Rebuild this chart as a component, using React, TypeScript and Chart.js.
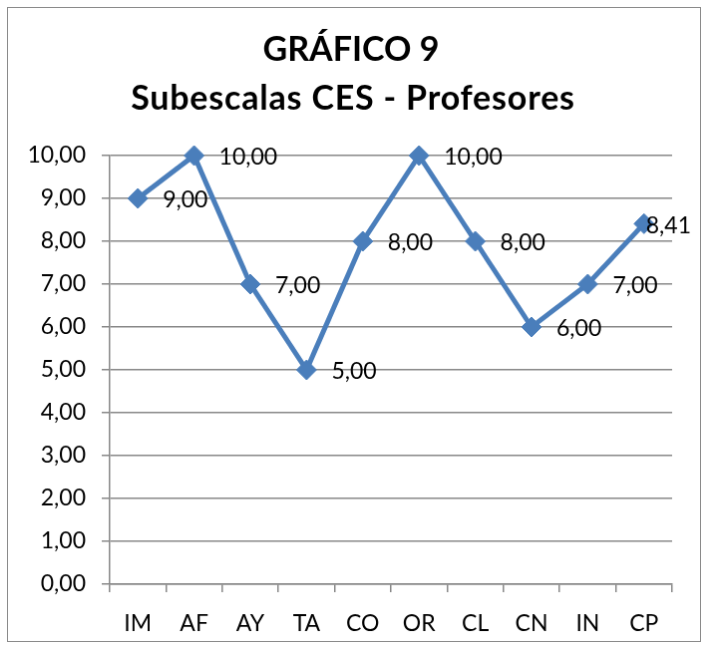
import React, { useEffect, useRef } from "react";
import { Chart, registerables } from "chart.js";

Chart.register(...registerables);

const titleLines = ["GRÁFICO 9", "Subescalas CES - Profesores"];
const categories = ["IM", "AF", "AY", "TA", "CO", "OR", "CL", "CN", "IN", "CP"];
const values = [9, 10, 7, 5, 8, 10, 8, 6, 7, 8.41];
const yMin = 0;
const yMax = 10;
const yStep = 1;

const FONT = "Lato, Carlito, Calibri, sans-serif";
const LINE = "#4A7EBB";
const GRID = "#888888";

const fmt = (v: number) => v.toFixed(2).replace(".", ",");

const titlePlugin = {
  id: "titleText",
  afterDraw(chart: any) {
    const ctx = chart.ctx;
    ctx.save();
    ctx.font = `bold 34px ${FONT}`;
    ctx.fillStyle = "#000";
    ctx.textAlign = "center";
    ctx.textBaseline = "alphabetic";
    const cx = chart.width / 2 - 1;
    ctx.fillText(titleLines[0], cx - 2, 53);
    try {
      (ctx as any).letterSpacing = "0.8px";
    } catch (e) {}
    ctx.fillText(titleLines[1], cx, 102);
    ctx.restore();
  },
};

const dataLabels = {
  id: "dataLabels",
  afterDatasetsDraw(chart: any) {
    const ctx = chart.ctx;
    const meta = chart.getDatasetMeta(0);
    ctx.save();
    ctx.font = `23px ${FONT}`;
    ctx.fillStyle = "#000";
    ctx.textAlign = "left";
    ctx.textBaseline = "middle";
    meta.data.forEach((pt: any, i: number) => {
      const txt = fmt(values[i]);
      const w = ctx.measureText(txt).width;
      let x = pt.x + 25;
      const maxX = chart.width - 9 - w;
      if (x > maxX) x = maxX;
      ctx.fillText(txt, x, pt.y + 2);
    });
    ctx.restore();
  },
};

export default function App() {
  const ref = useRef<HTMLCanvasElement>(null);
  useEffect(() => {
    if (!ref.current) return;
    const chart = new Chart(ref.current, {
      type: "line",
      data: {
        labels: categories,
        datasets: [
          {
            data: values,
            borderColor: LINE,
            backgroundColor: LINE,
            borderWidth: 5,
            pointStyle: "rectRot",
            pointRadius: 10,
            pointBorderWidth: 1,
            pointBorderColor: LINE,
            pointBackgroundColor: LINE,
            tension: 0,
            clip: false as any,
          },
        ],
      },
      options: {
        animation: false,
        responsive: false,
        maintainAspectRatio: false,
        layout: { padding: { left: 0, right: 28, top: 148, bottom: 0 } },
        plugins: {
          legend: { display: false },
          tooltip: { enabled: false },
          title: { display: false },
        },
        scales: {
          x: {
            offset: true,
            grid: {
              offset: true,
              drawOnChartArea: false,
              drawTicks: true,
              tickLength: 8,
              color: GRID,
              lineWidth: 1.5,
            },
            border: { display: true, color: GRID, width: 1.5 },
            ticks: {
              color: "#000",
              font: { family: FONT, size: 23 },
              padding: 18,
              maxRotation: 0,
              autoSkip: false,
            },
            afterFit: (s: any) => {
              s.height = 57;
            },
          },
          y: {
            min: yMin,
            max: yMax,
            grid: { color: GRID, lineWidth: 1.5, tickLength: 8 },
            border: { display: true, color: GRID, width: 1.5 },
            ticks: {
              stepSize: yStep,
              color: "#000",
              font: { family: FONT, size: 23 },
              padding: 16,
              callback: (v: any) => fmt(Number(v)),
            },
            afterFit: (s: any) => {
              s.width = 102;
            },
          },
        },
      },
      plugins: [dataLabels, titlePlugin],
    });
    return () => chart.destroy();
  }, []);
  return (
    <canvas
      ref={ref}
      width={694}
      height={635}
      style={{
        display: "block",
        position: "absolute",
        left: 7,
        top: 7,
        border: "1px solid #8a8a8a",
        width: 694,
        height: 635,
      }}
    />
  );
}
